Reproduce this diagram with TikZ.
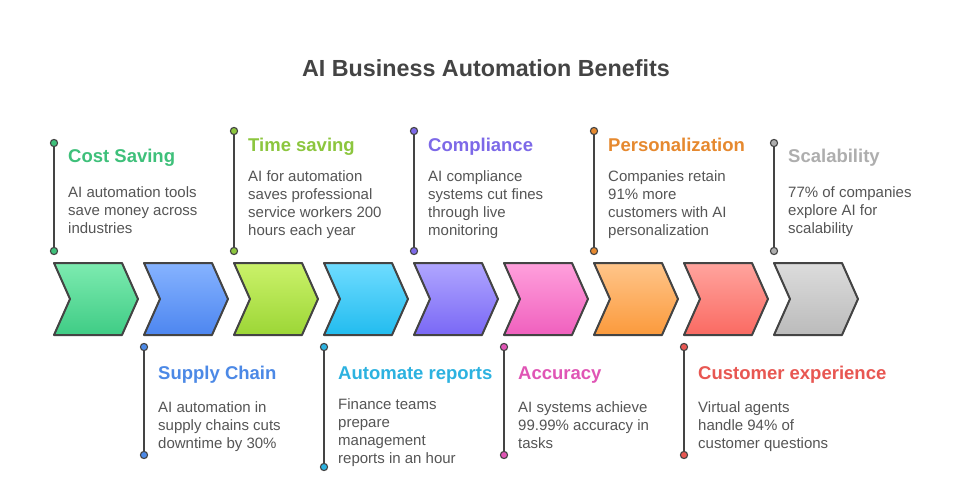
\documentclass[tikz,border=0pt]{standalone}
\usepackage{fontspec}
\setmainfont{Liberation Sans}
\definecolor{txt}{HTML}{555555}
\definecolor{ttl}{HTML}{444444}
\definecolor{edge}{HTML}{444444}
\definecolor{gA}{HTML}{3EC07A}\definecolor{gAt}{HTML}{7DEBB0}\definecolor{gAb}{HTML}{3FCC85}
\definecolor{gB}{HTML}{4C89E6}\definecolor{gBt}{HTML}{86B3FF}\definecolor{gBb}{HTML}{4D86F0}
\definecolor{gC}{HTML}{8CC63E}\definecolor{gCt}{HTML}{CBF26A}\definecolor{gCb}{HTML}{9CD636}
\definecolor{gD}{HTML}{2CB2E0}\definecolor{gDt}{HTML}{6FDCFF}\definecolor{gDb}{HTML}{22BCEF}
\definecolor{gE}{HTML}{7D69E8}\definecolor{gEt}{HTML}{B0A6FF}\definecolor{gEb}{HTML}{7A68F5}
\definecolor{gF}{HTML}{E055B5}\definecolor{gFt}{HTML}{FFA0DC}\definecolor{gFb}{HTML}{F060BE}
\definecolor{gG}{HTML}{E6892F}\definecolor{gGt}{HTML}{FFC58A}\definecolor{gGb}{HTML}{FB9A3C}
\definecolor{gH}{HTML}{E85752}\definecolor{gHt}{HTML}{FFA49E}\definecolor{gHb}{HTML}{FA6A62}
\definecolor{gI}{HTML}{AEAEAE}\definecolor{gIt}{HTML}{DCDCDC}\definecolor{gIb}{HTML}{BBBBBB}
\tikzset{
  chev/.style={draw=edge, line width=2pt, line join=round},
  stem/.style={draw=edge, line width=2.7pt},
  dotc/.style={draw=edge, line width=1.1pt, fill=#1},
  head/.style={anchor=base west, inner sep=0pt, font=\fontsize{18.5}{22}\selectfont\bfseries, text=#1},
  body/.style={anchor=north west, inner sep=0pt, align=left, text=txt, font=\fontsize{15}{18}\selectfont},
  title/.style={anchor=base, inner sep=0pt, text=ttl, font=\fontsize{23.3}{28}\selectfont\bfseries}
}
\newcommand{\chevron}[4]{% x, name, top, bottom
  \path[chev, top color=#3, bottom color=#4] (#1,263) -- ++(68,0) -- ++(16,36) -- ++(-16,36) -- ++(-68,0) -- ++(16,-36) -- cycle;
  \coordinate (#2) at (#1+42,299);
}
\newcommand{\stemline}[5]{% x, y1, y2, color, name
  \coordinate (#5a) at (#1,#2);
  \coordinate (#5b) at (#1,#3);
  \draw[stem] (#5a) -- (#5b);
  \draw[dotc=#4] (#5a) circle (3.6);
  \draw[dotc=#4] (#5b) circle (3.6);
}
\begin{document}
\begin{tikzpicture}[x=1pt,y=-1pt]
\useasboundingbox (0,0) rectangle (978,492);
\fill[white] (0,0) rectangle (978,492);
\node[title] (title) at (486,77) {AI Business Automation Benefits};

\chevron{54}{c1}{gAt}{gAb}
\chevron{144}{c2}{gBt}{gBb}
\chevron{234}{c3}{gCt}{gCb}
\chevron{324}{c4}{gDt}{gDb}
\chevron{414}{c5}{gEt}{gEb}
\chevron{504}{c6}{gFt}{gFb}
\chevron{594}{c7}{gGt}{gGb}
\chevron{684}{c8}{gHt}{gHb}
\chevron{774}{c9}{gIt}{gIb}

% top stems
\stemline{54}{143}{251}{gA}{s1}
\stemline{234}{131}{251}{gC}{s3}
\stemline{414}{131}{251}{gE}{s5}
\stemline{594}{131}{251}{gG}{s7}
\stemline{774}{143}{251}{gI}{s9}
% bottom stems
\stemline{144}{347}{455}{gB}{s2}
\stemline{324}{347}{467}{gD}{s4}
\stemline{504}{347}{455}{gF}{s6}
\stemline{684}{347}{455}{gH}{s8}

% top texts
\node[head=gA] (h1) at (68,163) {Cost Saving};
\node[body] (b1) at (68,197-12.6) {\strut AI automation tools\\save money across\\industries};
\node[head=gC] (h3) at (248,151.5) {Time saving};
\node[body] (b3) at (248,181.5-12.6) {\strut AI for automation\\saves professional\\service workers 200\\hours each year};
\node[head=gE] (h5) at (428,151.5) {Compliance};
\node[body] (b5) at (428,181.5-12.6) {\strut AI compliance\\systems cut fines\\through live\\monitoring};
\node[head=gG] (h7) at (608,151.5) {Personalization};
\node[body] (b7) at (608,181.5-12.6) {\strut Companies retain\\91\% more\\customers with AI\\personalization};
\node[head=gI] (h9) at (788,163) {Scalability};
\node[body] (b9) at (788,197-12.6) {\strut 77\% of companies\\explore AI for\\scalability};

% bottom texts
\node[head=gB] (h2) at (158,379) {Supply Chain};
\node[body] (b2) at (158,412-12.6) {\strut AI automation in\\supply chains cuts\\downtime by 30\%};
\node[head=gD] (h4) at (338,379) {Automate reports};
\node[body] (b4) at (338,409-12.6) {\strut Finance teams\\prepare\\management\\reports in an hour};
\node[head=gF] (h6) at (518,379) {Accuracy};
\node[body] (b6) at (518,412-12.6) {\strut AI systems achieve\\99.99\% accuracy in\\tasks};
\node[head=gH] (h8) at (698,379) {Customer experience};
\node[body] (b8) at (698,412-12.6) {\strut Virtual agents\\handle 94\% of\\customer questions};
\end{tikzpicture}
\end{document}
